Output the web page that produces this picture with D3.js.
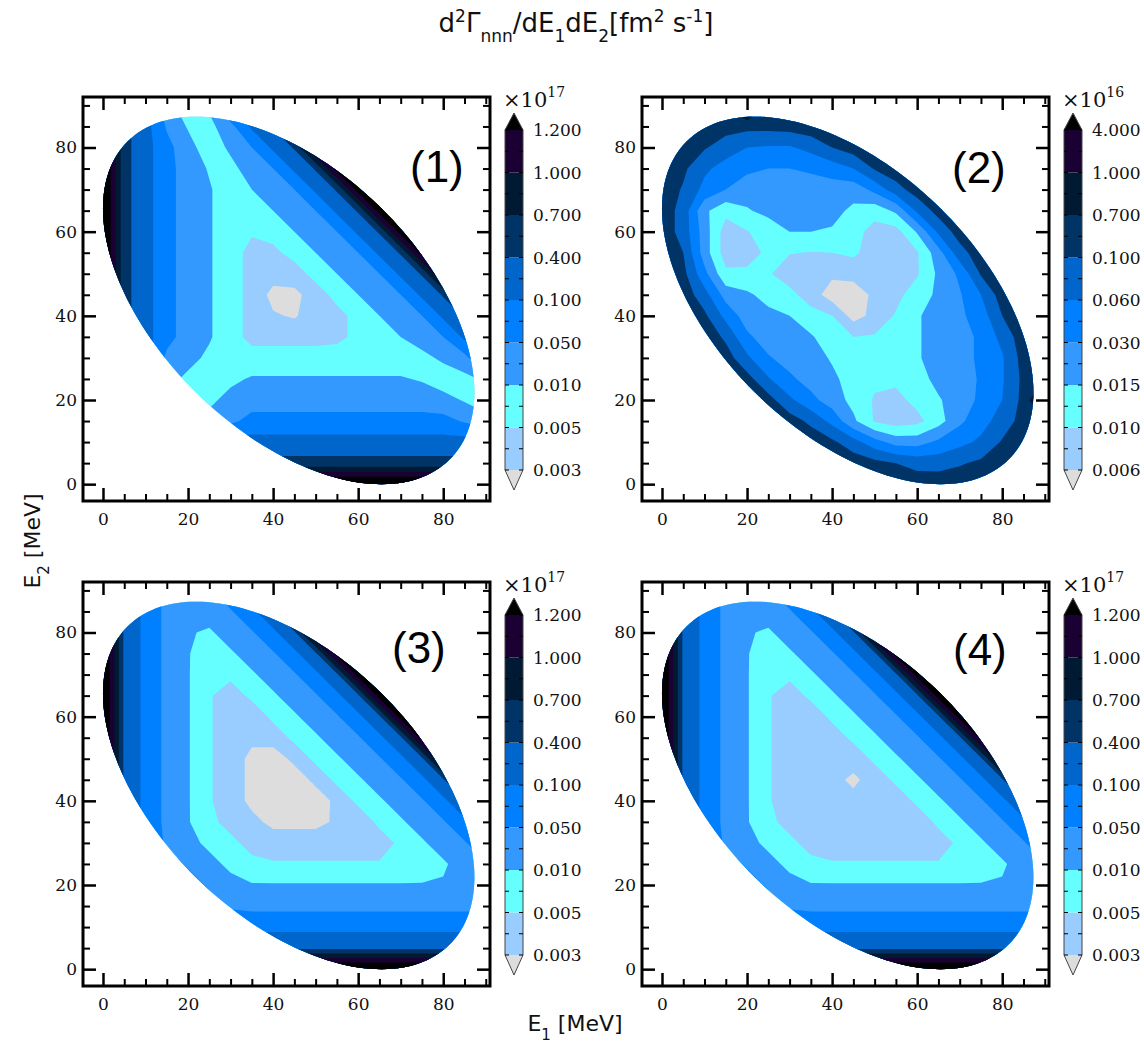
<!DOCTYPE html>
<html>
<head>
<meta charset="utf-8">
<script src="https://cdn.jsdelivr.net/npm/d3@7"></script>
<style>
  body { margin: 0; background: #fff; }
  svg { display: block; }
</style>
</head>
<body>
<svg id="chart" width="1144" height="1043"></svg>
<script>
// grid of E1 / E2 sample energies (MeV), 5 MeV apart
const gridE = [0, 5, 10, 15, 20, 25, 30, 35, 40, 45, 50, 55, 60, 65, 70, 75, 80, 85, 90];

// colour-band position: band k covers [k, k+1)
// rows go from E2 = 90 (top) down to E2 = 0, columns are E1 = 0..90
const panel1Levels = [
  [10.5, 6.3, 5.4, 3.4, 2.4, 3.2, 5.2, 6.1, 9.5, 10.5, 10.5, 10.5, 10.5, 10.5, 10.5, 10.5, 10.5, 10.5, 10.5],
  [10.5, 6.3, 5.4, 3.9, 2.9, 2.7, 3.7, 5.2, 6.1, 9.5, 10.5, 10.5, 10.5, 10.5, 10.5, 10.5, 10.5, 10.5, 10.5],
  [10.5, 6.3, 5.4, 4.3, 3.4, 2.4, 3.2, 4.0, 5.2, 6.1, 9.5, 10.5, 10.5, 10.5, 10.5, 10.5, 10.5, 10.5, 10.5],
  [10.5, 6.3, 5.4, 4.3, 3.6, 2.9, 2.7, 3.5, 4.0, 5.2, 6.1, 9.5, 10.5, 10.5, 10.5, 10.5, 10.5, 10.5, 10.5],
  [10.5, 6.3, 5.4, 4.3, 3.6, 3.1, 2.4, 3.0, 3.5, 4.0, 5.2, 6.1, 9.5, 10.5, 10.5, 10.5, 10.5, 10.5, 10.5],
  [10.5, 6.3, 5.4, 4.3, 3.6, 3.1, 2.4, 2.3, 3.0, 3.5, 4.0, 5.2, 6.1, 9.5, 10.5, 10.5, 10.5, 10.5, 10.5],
  [10.5, 6.3, 5.4, 4.3, 3.6, 3.1, 2.4, 2.1, 2.3, 3.0, 3.5, 4.0, 5.2, 6.1, 9.5, 10.5, 10.5, 10.5, 10.5],
  [10.5, 6.3, 5.4, 4.3, 3.6, 3.1, 2.4, 1.7, 1.8, 2.3, 3.0, 3.5, 4.0, 5.2, 6.1, 9.5, 10.5, 10.5, 10.5],
  [10.5, 6.3, 5.4, 4.3, 3.6, 3.1, 2.4, 1.7, 1.4, 1.6, 2.3, 3.0, 3.5, 4.0, 5.2, 6.1, 9.5, 10.5, 10.5],
  [10.5, 6.3, 5.4, 4.3, 3.6, 3.1, 2.4, 1.7, 0.7, 0.7, 1.55, 2.3, 3.0, 3.5, 4.0, 5.2, 6.1, 9.5, 10.5],
  [10.5, 6.3, 5.4, 4.3, 3.6, 3.1, 2.4, 1.7, 1.1, 0.9, 1.5, 1.7, 2.3, 3.0, 3.5, 4.0, 5.2, 6.1, 9.5],
  [10.5, 6.3, 5.4, 4.3, 3.6, 3.1, 2.4, 1.7, 1.7, 1.7, 1.7, 1.8, 2.2, 2.3, 3.0, 3.5, 4.0, 5.2, 6.1],
  [10.5, 6.3, 5.4, 3.8, 3.3, 2.8, 2.3, 2.4, 2.4, 2.4, 2.4, 2.4, 2.4, 2.4, 2.4, 2.7, 3.2, 3.7, 5.2],
  [10.5, 6.3, 5.4, 3.3, 2.8, 2.3, 2.8, 3.1, 3.1, 3.1, 3.1, 3.1, 3.1, 3.1, 3.1, 2.9, 2.4, 2.7, 3.2],
  [10.5, 6.3, 5.4, 2.8, 2.3, 2.8, 3.3, 3.6, 3.6, 3.6, 3.6, 3.6, 3.6, 3.6, 3.6, 3.6, 3.4, 2.9, 2.4],
  [10.5, 6.3, 5.4, 2.3, 2.8, 3.3, 3.8, 4.3, 4.3, 4.3, 4.3, 4.3, 4.3, 4.3, 4.3, 4.3, 4.3, 3.9, 3.4],
  [10.5, 6.3, 5.4, 5.4, 5.4, 5.4, 5.4, 5.4, 5.4, 5.4, 5.4, 5.4, 5.4, 5.4, 5.4, 5.4, 5.4, 5.4, 5.4],
  [10.5, 6.3, 6.3, 6.3, 6.3, 6.3, 6.3, 6.3, 6.3, 6.3, 6.3, 6.3, 6.3, 6.3, 6.3, 6.3, 6.3, 6.3, 6.3],
  [10.5, 10.5, 10.5, 10.5, 10.5, 10.5, 10.5, 10.5, 10.5, 10.5, 10.5, 10.5, 10.5, 10.5, 10.5, 10.5, 10.5, 10.5, 10.5]
];

const panel2Levels = [
  [6.9, 6.9, 6.9, 6.9, 8.8, 6.9, 6.9, 6.9, 6.9, 6.9, 6.9, 6.9, 6.9, 6.9, 6.9, 6.9, 6.9, 6.9, 6.9],
  [6.9, 6.8, 6.6, 6.4, 6.3, 6.3, 6.4, 6.6, 6.8, 6.9, 6.9, 6.9, 6.9, 6.9, 6.9, 6.9, 6.9, 6.9, 6.9],
  [6.8, 6.6, 6.1, 5.5, 5.0, 4.9, 4.9, 5.3, 6.0, 6.5, 6.8, 6.9, 6.9, 6.9, 6.9, 6.9, 6.9, 6.9, 6.9],
  [6.7, 6.2, 5.2, 4.6, 4.2, 4.0, 4.0, 4.2, 4.5, 5.0, 6.1, 6.6, 6.9, 6.9, 6.9, 6.9, 6.9, 6.9, 6.9],
  [6.6, 5.9, 4.7, 4.0, 3.5, 3.4, 3.4, 3.4, 3.5, 3.4, 4.3, 5.6, 6.5, 6.9, 6.9, 6.9, 6.9, 6.9, 6.9],
  [6.6, 5.6, 3.2, 2.3, 2.9, 3.3, 3.4, 3.4, 3.3, 2.8, 2.4, 3.2, 5.2, 6.4, 6.9, 6.9, 6.9, 6.9, 6.9],
  [6.6, 5.6, 3.5, 1.5, 1.95, 2.4, 3.0, 3.0, 2.9, 2.4, 1.6, 1.6, 3.1, 5.2, 6.5, 6.9, 6.9, 6.9, 6.9],
  [6.7, 6.0, 3.5, 1.5, 1.8, 2.1, 2.05, 1.95, 2.0, 2.2, 1.5, 1.4, 1.9, 3.6, 5.6, 6.6, 6.9, 6.9, 6.9],
  [6.8, 6.3, 4.3, 2.2, 2.1, 2.1, 1.5, 1.3, 1.2, 1.3, 1.5, 1.6, 1.9, 3.2, 4.2, 6.1, 6.8, 6.9, 6.9],
  [6.9, 6.6, 5.4, 3.6, 3.2, 2.6, 2.3, 1.5, 0.5, 0.5, 1.2, 1.7, 2.5, 3.2, 3.9, 5.0, 6.5, 6.9, 6.9],
  [6.9, 6.8, 6.2, 4.7, 3.5, 3.3, 3.0, 2.4, 2.0, 0.6, 1.3, 2.1, 2.9, 3.4, 3.8, 4.5, 6.0, 6.7, 6.9],
  [6.9, 6.9, 6.7, 5.8, 4.2, 3.5, 3.4, 3.1, 2.5, 2.0, 2.1, 2.4, 2.9, 3.4, 3.6, 4.2, 5.3, 6.6, 6.9],
  [6.9, 6.9, 6.9, 6.5, 5.2, 4.1, 3.6, 3.4, 2.9, 2.4, 2.3, 2.4, 2.9, 3.4, 3.6, 4.2, 4.9, 6.4, 6.9],
  [6.9, 6.9, 6.9, 6.9, 6.4, 5.1, 4.2, 3.6, 3.2, 2.6, 2.2, 2.2, 2.6, 3.3, 3.6, 4.1, 4.9, 6.25, 6.9],
  [6.9, 6.9, 6.9, 6.9, 6.9, 6.4, 5.2, 4.3, 3.5, 2.7, 1.9, 1.7, 2.3, 2.9, 3.5, 4.2, 5.0, 6.3, 8.8],
  [6.9, 6.9, 6.9, 6.9, 6.9, 6.9, 6.5, 5.75, 4.7, 3.2, 1.9, 1.5, 1.7, 2.6, 3.8, 4.6, 5.45, 6.4, 6.8],
  [6.9, 6.9, 6.9, 6.9, 6.9, 6.9, 6.9, 6.7, 6.2, 5.4, 4.4, 3.6, 3.6, 4.2, 4.7, 5.2, 6.1, 6.6, 6.9],
  [6.9, 6.9, 6.9, 6.9, 6.9, 6.9, 6.9, 6.9, 6.8, 6.6, 6.3, 6.0, 5.65, 5.6, 5.9, 6.2, 6.55, 6.8, 6.9],
  [6.9, 6.9, 6.9, 6.9, 6.9, 6.9, 6.9, 6.9, 6.9, 6.9, 6.9, 6.7, 6.6, 6.6, 6.6, 6.7, 6.8, 6.9, 6.9]
];

const panel3Levels = [
  [10.5, 5.8, 4.75, 3.74, 3.4, 3.9, 4.8, 5.8, 9.5, 10.5, 10.5, 10.5, 10.5, 10.5, 10.5, 10.5, 10.5, 10.5, 10.5],
  [10.5, 5.8, 4.75, 3.74, 3.08, 3.4, 3.9, 4.8, 5.8, 9.5, 10.5, 10.5, 10.5, 10.5, 10.5, 10.5, 10.5, 10.5, 10.5],
  [10.5, 5.8, 4.75, 3.74, 3.08, 2.88, 3.4, 3.9, 4.8, 5.8, 9.5, 10.5, 10.5, 10.5, 10.5, 10.5, 10.5, 10.5, 10.5],
  [10.5, 5.8, 4.75, 3.74, 3.08, 2.29, 2.88, 3.4, 3.9, 4.8, 5.8, 9.5, 10.5, 10.5, 10.5, 10.5, 10.5, 10.5, 10.5],
  [10.5, 5.8, 4.75, 3.74, 3.08, 2.12, 2.29, 2.88, 3.4, 3.9, 4.8, 5.8, 9.5, 10.5, 10.5, 10.5, 10.5, 10.5, 10.5],
  [10.5, 5.8, 4.75, 3.74, 3.08, 2.12, 1.36, 2.29, 2.88, 3.4, 3.9, 4.8, 5.8, 9.5, 10.5, 10.5, 10.5, 10.5, 10.5],
  [10.5, 5.8, 4.75, 3.74, 3.08, 2.12, 1.36, 1.17, 2.29, 2.88, 3.4, 3.9, 4.8, 5.8, 9.5, 10.5, 10.5, 10.5, 10.5],
  [10.5, 5.8, 4.75, 3.74, 3.08, 2.12, 1.36, 1.15, 1.3, 2.29, 2.88, 3.4, 3.9, 4.8, 5.8, 9.5, 10.5, 10.5, 10.5],
  [10.5, 5.8, 4.75, 3.74, 3.08, 2.12, 1.36, 0.82, 0.63, 1.17, 2.29, 2.88, 3.4, 3.9, 4.8, 5.8, 9.5, 10.5, 10.5],
  [10.5, 5.8, 4.75, 3.74, 3.08, 2.12, 1.36, 0.82, 0.45, 0.63, 1.17, 2.29, 2.88, 3.4, 3.9, 4.8, 5.8, 9.5, 10.5],
  [10.5, 5.8, 4.75, 3.74, 3.08, 2.12, 1.36, 0.82, 0.45, 0.45, 0.63, 1.17, 2.29, 2.88, 3.4, 3.9, 4.8, 5.8, 9.5],
  [10.5, 5.8, 4.75, 3.74, 3.08, 2.22, 1.7, 1.2, 0.82, 0.82, 0.82, 1.1, 1.17, 2.29, 2.88, 3.4, 3.9, 4.8, 5.8],
  [10.5, 5.8, 4.75, 3.86, 3.3, 2.78, 2.22, 1.7, 1.36, 1.36, 1.36, 1.36, 1.36, 1.36, 2.29, 2.88, 3.4, 3.9, 4.8],
  [10.5, 5.8, 4.75, 4.46, 3.86, 3.3, 2.78, 2.22, 2.12, 2.12, 2.12, 2.12, 2.12, 2.12, 2.12, 2.29, 2.88, 3.4, 3.9],
  [10.5, 5.8, 4.75, 4.5, 4.46, 3.86, 3.3, 3.08, 3.08, 3.08, 3.08, 3.08, 3.08, 3.08, 3.08, 3.08, 3.08, 3.08, 3.4],
  [10.5, 5.8, 4.75, 4.5, 4.5, 4.46, 3.86, 3.74, 3.74, 3.74, 3.74, 3.74, 3.74, 3.74, 3.74, 3.74, 3.74, 3.74, 3.74],
  [10.5, 5.8, 4.75, 4.75, 4.75, 4.75, 4.75, 4.75, 4.75, 4.75, 4.75, 4.75, 4.75, 4.75, 4.75, 4.75, 4.75, 4.75, 4.75],
  [10.5, 5.8, 5.8, 5.8, 5.8, 5.8, 5.8, 5.8, 5.8, 5.8, 5.8, 5.8, 5.8, 5.8, 5.8, 5.8, 5.8, 5.8, 5.8],
  [10.5, 10.5, 10.5, 10.5, 10.5, 10.5, 10.5, 10.5, 10.5, 10.5, 10.5, 10.5, 10.5, 10.5, 10.5, 10.5, 10.5, 10.5, 10.5]
];

const panel4Levels = [
  [10.5, 5.8, 4.75, 3.74, 3.4, 3.9, 4.8, 5.8, 9.5, 10.5, 10.5, 10.5, 10.5, 10.5, 10.5, 10.5, 10.5, 10.5, 10.5],
  [10.5, 5.8, 4.75, 3.74, 3.08, 3.4, 3.9, 4.8, 5.8, 9.5, 10.5, 10.5, 10.5, 10.5, 10.5, 10.5, 10.5, 10.5, 10.5],
  [10.5, 5.8, 4.75, 3.74, 3.08, 2.88, 3.4, 3.9, 4.8, 5.8, 9.5, 10.5, 10.5, 10.5, 10.5, 10.5, 10.5, 10.5, 10.5],
  [10.5, 5.8, 4.75, 3.74, 3.08, 2.29, 2.88, 3.4, 3.9, 4.8, 5.8, 9.5, 10.5, 10.5, 10.5, 10.5, 10.5, 10.5, 10.5],
  [10.5, 5.8, 4.75, 3.74, 3.08, 2.12, 2.29, 2.88, 3.4, 3.9, 4.8, 5.8, 9.5, 10.5, 10.5, 10.5, 10.5, 10.5, 10.5],
  [10.5, 5.8, 4.75, 3.74, 3.08, 2.12, 1.36, 2.29, 2.88, 3.4, 3.9, 4.8, 5.8, 9.5, 10.5, 10.5, 10.5, 10.5, 10.5],
  [10.5, 5.8, 4.75, 3.74, 3.08, 2.12, 1.36, 1.17, 2.29, 2.88, 3.4, 3.9, 4.8, 5.8, 9.5, 10.5, 10.5, 10.5, 10.5],
  [10.5, 5.8, 4.75, 3.74, 3.08, 2.12, 1.36, 1.15, 1.3, 2.29, 2.88, 3.4, 3.9, 4.8, 5.8, 9.5, 10.5, 10.5, 10.5],
  [10.5, 5.8, 4.75, 3.74, 3.08, 2.12, 1.36, 1.35, 1.25, 1.17, 2.29, 2.88, 3.4, 3.9, 4.8, 5.8, 9.5, 10.5, 10.5],
  [10.5, 5.8, 4.75, 3.74, 3.08, 2.12, 1.36, 1.3, 1.12, 0.92, 1.17, 2.29, 2.88, 3.4, 3.9, 4.8, 5.8, 9.5, 10.5],
  [10.5, 5.8, 4.75, 3.74, 3.08, 2.12, 1.36, 1.35, 1.2, 1.12, 1.25, 1.17, 2.29, 2.88, 3.4, 3.9, 4.8, 5.8, 9.5],
  [10.5, 5.8, 4.75, 3.74, 3.08, 2.22, 1.7, 1.2, 1.35, 1.3, 1.3, 1.1, 1.17, 2.29, 2.88, 3.4, 3.9, 4.8, 5.8],
  [10.5, 5.8, 4.75, 3.86, 3.3, 2.78, 2.22, 1.7, 1.36, 1.36, 1.36, 1.36, 1.36, 1.36, 2.29, 2.88, 3.4, 3.9, 4.8],
  [10.5, 5.8, 4.75, 4.46, 3.86, 3.3, 2.78, 2.22, 2.12, 2.12, 2.12, 2.12, 2.12, 2.12, 2.12, 2.29, 2.88, 3.4, 3.9],
  [10.5, 5.8, 4.75, 4.5, 4.46, 3.86, 3.3, 3.08, 3.08, 3.08, 3.08, 3.08, 3.08, 3.08, 3.08, 3.08, 3.08, 3.08, 3.4],
  [10.5, 5.8, 4.75, 4.5, 4.5, 4.46, 3.86, 3.74, 3.74, 3.74, 3.74, 3.74, 3.74, 3.74, 3.74, 3.74, 3.74, 3.74, 3.74],
  [10.5, 5.8, 4.75, 4.75, 4.75, 4.75, 4.75, 4.75, 4.75, 4.75, 4.75, 4.75, 4.75, 4.75, 4.75, 4.75, 4.75, 4.75, 4.75],
  [10.5, 5.8, 5.8, 5.8, 5.8, 5.8, 5.8, 5.8, 5.8, 5.8, 5.8, 5.8, 5.8, 5.8, 5.8, 5.8, 5.8, 5.8, 5.8],
  [10.5, 10.5, 10.5, 10.5, 10.5, 10.5, 10.5, 10.5, 10.5, 10.5, 10.5, 10.5, 10.5, 10.5, 10.5, 10.5, 10.5, 10.5, 10.5]
];

// band colours, lowest (below first colorbar value) to highest (above last)
const bandColors = ["#dddddd", "#99ccff", "#66ffff", "#3399ff", "#0080ff",
                    "#0066cc", "#003366", "#001a33", "#1a0033", "#000000"];

// colorbar labels
const cbarLabels17 = ["0.003", "0.005", "0.010", "0.050", "0.100", "0.400", "0.700", "1.000", "1.200"];
const cbarLabels16 = ["0.006", "0.010", "0.015", "0.030", "0.060", "0.100", "0.700", "1.000", "4.000"];

const xTicks = [0, 20, 40, 60, 80];
const yTicks = [0, 20, 40, 60, 80];
const minorTicks = [5, 10, 15, 25, 30, 35, 45, 50, 55, 65, 70, 75, 85, 90];

// kinematic limit E1+E2+E3 (MeV): the region touches the axes at Q/2
const Q = 131;

// where each panel sits
const panels = [
  { levels: panel1Levels, labels: cbarLabels17, exp: "17", left: 83,  top: 97,  name: "(1)", nx: 410, ny: 182 },
  { levels: panel2Levels, labels: cbarLabels16, exp: "16", left: 642, top: 97,  name: "(2)", nx: 952, ny: 183 },
  { levels: panel3Levels, labels: cbarLabels17, exp: "17", left: 83,  top: 582, name: "(3)", nx: 392, ny: 663 },
  { levels: panel4Levels, labels: cbarLabels17, exp: "17", left: 642, top: 582, name: "(4)", nx: 953, ny: 665 }
];

const svg = d3.select("#chart");
const W = 407, H = 404;
const serif = "'DejaVu Serif', serif";
const sans = "'DejaVu Sans', sans-serif";

const x = d3.scaleLinear().domain([-4.7, 91]).range([0, W]);
const y = d3.scaleLinear().domain([-4, 92]).range([H, 0]);

// contour grid coords -> energies (sample k sits at k + 0.5)
const n = gridE.length;
const gx = d3.scaleLinear().domain([0.5, n - 0.5]).range([gridE[0], gridE[n - 1]]);
const gy = d3.scaleLinear().domain([0.5, n - 0.5]).range([gridE[n - 1], gridE[0]]);
const toScreen = d3.geoTransform({
  point(px, py) { this.stream.point(x(gx(px)), y(gy(py))); }
});
const contourPath = d3.geoPath(toScreen);
const thresholds = bandColors.map((c, k) => k);

// Dalitz boundary (three equal masses): 3(u - 2Q/3)^2 + w^2 = Q^2/3, u = E1+E2, w = E1-E2
const edge = d3.range(0, 360, 2).map(deg => {
  const t = deg * Math.PI / 180;
  const u = 2 * Q / 3 + Q / 3 * Math.cos(t);
  const w = Q / Math.sqrt(3) * Math.sin(t);
  return [(u + w) / 2, (u - w) / 2];
});
const edgeLine = d3.line().x(d => x(d[0])).y(d => y(d[1])).curve(d3.curveLinearClosed);

function styleAxis(sel, width) {
  sel.select(".domain").remove();
  sel.selectAll("line").attr("stroke", "#000").attr("stroke-width", width);
  sel.selectAll("text").attr("font-family", serif).attr("font-size", 17).attr("fill", "#111");
}

panels.forEach((p, i) => {
  const g = svg.append("g").attr("transform", `translate(${p.left},${p.top})`);

  g.append("clipPath").attr("id", `clip${i}`)
    .append("path").attr("d", edgeLine(edge));

  // filled contour bands
  const contours = d3.contours().size([n, n]).thresholds(thresholds)(p.levels.flat());
  g.append("g").attr("clip-path", `url(#clip${i})`)
    .selectAll("path").data(contours).join("path")
    .attr("d", contourPath)
    .attr("fill", d => bandColors[d.value]);

  // ticks, inward on all four sides
  g.append("g").attr("transform", `translate(0,${H})`)
    .call(d3.axisBottom(x).tickValues(xTicks).tickSize(-13).tickPadding(12))
    .call(a => styleAxis(a, 2.5));
  g.append("g").attr("transform", `translate(0,${H})`)
    .call(d3.axisBottom(x).tickValues(minorTicks).tickSize(-7).tickFormat(""))
    .call(a => styleAxis(a, 2));
  g.append("g")
    .call(d3.axisTop(x).tickValues(xTicks).tickSize(-13).tickFormat(""))
    .call(a => styleAxis(a, 2.5));
  g.append("g")
    .call(d3.axisTop(x).tickValues(minorTicks).tickSize(-7).tickFormat(""))
    .call(a => styleAxis(a, 2));
  g.append("g")
    .call(d3.axisLeft(y).tickValues(yTicks).tickSize(-13).tickPadding(6))
    .call(a => styleAxis(a, 2.5));
  g.append("g")
    .call(d3.axisLeft(y).tickValues(minorTicks).tickSize(-7).tickFormat(""))
    .call(a => styleAxis(a, 2));
  g.append("g").attr("transform", `translate(${W},0)`)
    .call(d3.axisRight(y).tickValues(yTicks).tickSize(-13).tickFormat(""))
    .call(a => styleAxis(a, 2.5));
  g.append("g").attr("transform", `translate(${W},0)`)
    .call(d3.axisRight(y).tickValues(minorTicks).tickSize(-7).tickFormat(""))
    .call(a => styleAxis(a, 2));

  g.append("rect").attr("width", W).attr("height", H)
    .attr("fill", "none").attr("stroke", "#000").attr("stroke-width", 3);

  // colorbar with extend arrows
  const nb = p.labels.length - 1;
  const cb = d3.scaleLinear().domain([0, nb]).range([373, 33]);
  const cbx = 422, cbw = 18;
  const bar = g.append("g");
  p.labels.slice(1).forEach((_, k) => {
    bar.append("rect")
      .attr("x", cbx).attr("y", cb(k + 1))
      .attr("width", cbw).attr("height", cb(k) - cb(k + 1))
      .attr("fill", bandColors[k + 1]);
  });
  bar.append("path")
    .attr("d", `M${cbx},${cb(0)}L${cbx + cbw},${cb(0)}L${cbx + cbw / 2},${cb(0) + 20}Z`)
    .attr("fill", bandColors[0]);
  bar.append("path")
    .attr("d", `M${cbx},${cb(nb)}L${cbx + cbw},${cb(nb)}L${cbx + cbw / 2},${cb(nb) - 17}Z`)
    .attr("fill", bandColors[bandColors.length - 1]);
  bar.append("path")
    .attr("d", `M${cbx},${cb(nb)}L${cbx + cbw / 2},${cb(nb) - 17}L${cbx + cbw},${cb(nb)}` +
               `L${cbx + cbw},${cb(0)}L${cbx + cbw / 2},${cb(0) + 20}L${cbx},${cb(0)}Z`)
    .attr("fill", "none").attr("stroke", "#444").attr("stroke-width", 1);
  d3.range(0, nb + 0.01, 0.5).forEach(v => {
    bar.append("line").attr("x1", cbx).attr("x2", cbx + 4).attr("y1", cb(v)).attr("y2", cb(v))
      .attr("stroke", "#000").attr("stroke-width", 1);
    bar.append("line").attr("x1", cbx + cbw - 4).attr("x2", cbx + cbw).attr("y1", cb(v)).attr("y2", cb(v))
      .attr("stroke", "#000").attr("stroke-width", 1);
  });
  bar.selectAll("text.cbl").data(p.labels).join("text")
    .attr("class", "cbl")
    .attr("x", cbx + cbw + 10).attr("y", (d, k) => cb(k)).attr("dy", "0.38em")
    .attr("font-family", serif).attr("font-size", 17).attr("fill", "#111")
    .text(d => d);

  const expo = bar.append("text").attr("x", cbx - 2).attr("y", 10)
    .attr("font-family", serif).attr("font-size", 21).attr("fill", "#111");
  expo.append("tspan").text("×10");
  expo.append("tspan").attr("dy", -10).attr("font-size", 14).text(p.exp);

  svg.append("text").attr("x", p.nx).attr("y", p.ny)
    .attr("font-family", "'Liberation Sans', Arial, sans-serif").attr("font-size", 44)
    .attr("fill", "#000").text(p.name);
});

// title
const title = svg.append("text").attr("x", 576).attr("y", 32).attr("text-anchor", "middle")
  .attr("font-family", sans).attr("font-size", 26).attr("fill", "#111");
title.append("tspan").text("d");
title.append("tspan").attr("baseline-shift", "super").attr("font-size", 17).text("2");
title.append("tspan").text("Γ");
title.append("tspan").attr("baseline-shift", "sub").attr("font-size", 17).text("nnn");
title.append("tspan").text("/dE");
title.append("tspan").attr("baseline-shift", "sub").attr("font-size", 17).text("1");
title.append("tspan").text("dE");
title.append("tspan").attr("baseline-shift", "sub").attr("font-size", 17).text("2");
title.append("tspan").text("[fm");
title.append("tspan").attr("baseline-shift", "super").attr("font-size", 17).text("2");
title.append("tspan").text(" s");
title.append("tspan").attr("baseline-shift", "super").attr("font-size", 17).text("-1");
title.append("tspan").text("]");

// axis titles
const xl = svg.append("text").attr("x", 575).attr("y", 1031).attr("text-anchor", "middle")
  .attr("font-family", sans).attr("font-size", 22).attr("fill", "#111");
xl.append("tspan").text("E");
xl.append("tspan").attr("baseline-shift", "sub").attr("font-size", 15).text("1");
xl.append("tspan").text(" [MeV]");

const yl = svg.append("text").attr("transform", "translate(40,541) rotate(-90)")
  .attr("text-anchor", "middle")
  .attr("font-family", sans).attr("font-size", 22).attr("fill", "#111");
yl.append("tspan").text("E");
yl.append("tspan").attr("baseline-shift", "sub").attr("font-size", 15).text("2");
yl.append("tspan").text(" [MeV]");
</script>
</body>
</html>
